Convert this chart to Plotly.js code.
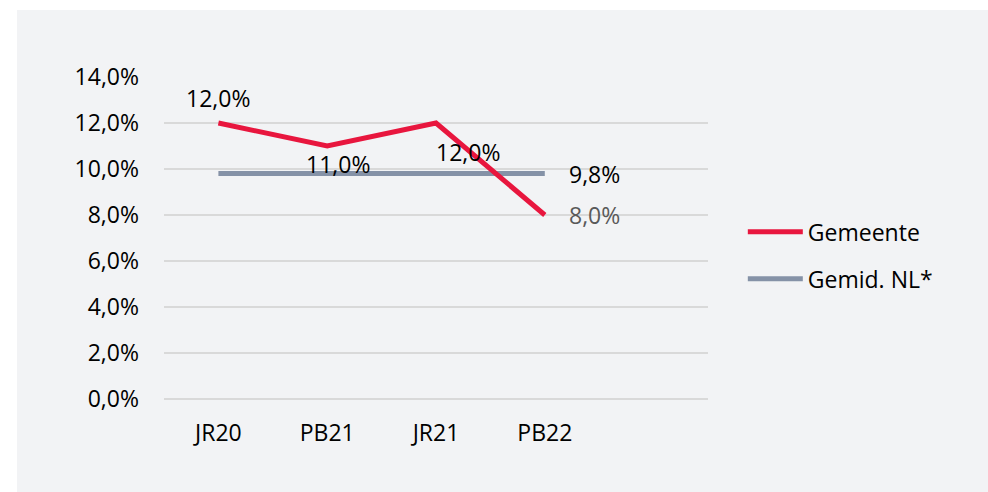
<!DOCTYPE html>
<html>
<head>
<meta charset="utf-8">
<script src="https://cdn.plot.ly/plotly-3.0.1.min.js"></script>
<style>
html,body{margin:0;padding:0;background:#ffffff;width:988px;height:492px;overflow:hidden;}
#panel{position:absolute;left:17px;top:10px;width:971px;height:482px;background:#f2f3f5;}
#chart{position:absolute;left:0;top:0;width:988px;height:492px;}
</style>
</head>
<body>
<div id="panel"></div>
<div id="chart"></div>
<script>
var categories = ['JR20', 'PB21', 'JR21', 'PB22'];
var gemeente = [12.0, 11.0, 12.0, 8.0];
var gemiddeldNL = [9.8, 9.8, 9.8, 9.8];
var seriesNames = ['Gemeente', 'Gemid. NL*'];
var yTicks = [0, 2, 4, 6, 8, 10, 12, 14];

function fmt(v) { return v.toFixed(1).replace('.', ',') + '%'; }

var FONT = 'Open Sans, Roboto, sans-serif';
var RED = '#e8163e';
var GREY = '#8592a7';

var traces = [
  {
    x: categories, y: gemiddeldNL, name: seriesNames[1], type: 'scatter', mode: 'lines',
    line: {color: GREY, width: 5}, legendrank: 2, legendgroup: 'g2', hoverinfo: 'skip'
  },
  {
    x: categories, y: gemeente, name: seriesNames[0], type: 'scatter', mode: 'lines',
    line: {color: RED, width: 5}, legendrank: 1, legendgroup: 'g1', hoverinfo: 'skip'
  }
];

// label offsets (style only)
var gemOffsets = [
  {xs: 0, ys: 25, xa: 'center', color: '#000'},
  {xs: 11, ys: -18, xa: 'center', color: '#000'},
  {xs: 32, ys: -29, xa: 'center', color: '#000'},
  {xs: 22, ys: 0, xa: 'left', color: '#595959'}
];
var annotations = [];
gemeente.forEach(function (v, i) {
  var o = gemOffsets[i];
  annotations.push({
    x: categories[i], y: v, xref: 'x', yref: 'y', text: fmt(v), showarrow: false,
    xanchor: o.xa, yanchor: 'middle', xshift: o.xs, yshift: o.ys,
    font: {family: FONT, size: 23, color: o.color}
  });
});
var lastIdx = gemiddeldNL.length - 1;
annotations.push({
  x: categories[lastIdx], y: gemiddeldNL[lastIdx], xref: 'x', yref: 'y',
  text: fmt(gemiddeldNL[lastIdx]), showarrow: false,
  xanchor: 'left', yanchor: 'middle', xshift: 22, yshift: 0,
  font: {family: FONT, size: 23, color: '#000'}
});

var layout = {
  width: 988, height: 492,
  margin: {l: 164, r: 280, t: 77, b: 93, pad: 0},
  paper_bgcolor: 'rgba(0,0,0,0)',
  plot_bgcolor: 'rgba(0,0,0,0)',
  separators: ',.',
  font: {family: FONT, size: 23, color: '#000'},
  showlegend: true,
  legend: {
    x: 1.064, xanchor: 'left', y: 0.446, yanchor: 'middle',
    bgcolor: 'rgba(0,0,0,0)', borderwidth: 0,
    font: {family: FONT, size: 23, color: '#000'},
    itemwidth: 55, traceorder: 'grouped', tracegroupgap: 14
  },
  xaxis: {
    type: 'category', range: [-0.5, 4.5], showgrid: false, zeroline: false,
    showline: false, ticks: '', ticklabelstandoff: 18,
    tickfont: {family: FONT, size: 23, color: '#000'}, fixedrange: true
  },
  yaxis: {
    range: [0, 14], tickmode: 'array', tickvals: yTicks, ticktext: yTicks.map(fmt),
    showgrid: true, gridcolor: '#d9d9d9', gridwidth: 1.5,
    zeroline: true, zerolinecolor: '#d9d9d9', zerolinewidth: 1.5,
    showline: false, ticks: '', ticklabelstandoff: 24,
    tickfont: {family: FONT, size: 23, color: '#000'}, fixedrange: true
  },
  annotations: annotations
};

Plotly.newPlot('chart', traces, layout, {displayModeBar: false, staticPlot: true});
</script>
</body>
</html>
